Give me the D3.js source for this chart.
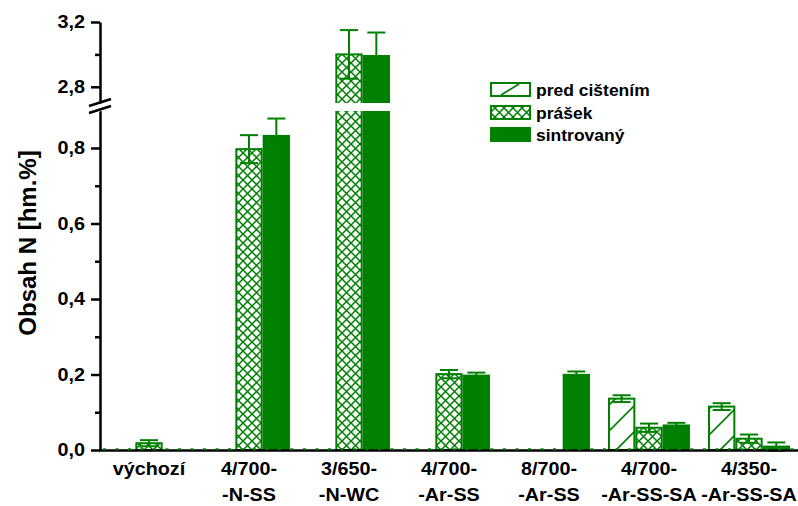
<!DOCTYPE html>
<html>
<head>
<meta charset="utf-8">
<script src="https://cdn.jsdelivr.net/npm/d3@7/dist/d3.min.js"></script>
<style>
  html, body { margin: 0; padding: 0; background: #fff; }
  svg { display: block; font-family: Arial, "Liberation Sans", sans-serif; font-weight: bold; }
</style>
</head>
<body>
<svg id="chart" width="798" height="506"></svg>
<script>
// Nitrogen content per sample, three series; null = not measured
const categories = [["výchozí"], ["4/700-", "-N-SS"], ["3/650-", "-N-WC"], ["4/700-", "-Ar-SS"],
                    ["8/700-", "-Ar-SS"], ["4/700-", "-Ar-SS-SA"], ["4/350-", "-Ar-SS-SA"]];
const seriesNames = ["pred cištením", "prášek", "sintrovaný"];
const predValues   = [null, null, null, null, null, 0.136, 0.115];
const predErrors   = [null, null, null, null, null, 0.009, 0.009];
const prasekValues = [0.018, 0.797, 3.00, 0.201, null, 0.059, 0.030];
const prasekErrors = [0.008, 0.037, 0.15, 0.011, null, 0.011, 0.011];
const sintrValues  = [null, 0.832, 2.99, 0.197, 0.199, 0.065, 0.009];
const sintrErrors  = [null, 0.046, 0.145, 0.008, 0.009, 0.007, 0.011];
const lowTicks = [0, 0.2, 0.4, 0.6, 0.8];
const lowMinor = [0.1, 0.3, 0.5, 0.7];
const highTicks = [2.8, 3.2];
const highMinor = [3.0];

const green = "#008000";
const svg = d3.select("#chart");
const wide = 1.13; // horizontal stretch of the label lettering

const x = d3.scaleBand().domain(d3.range(categories.length)).range([99, 799]).paddingInner(0).paddingOuter(0);
const groupPad = 0.09;
const xs = d3.scaleBand().domain([0, 1, 2])
  .range([x.bandwidth() * groupPad, x.bandwidth() * (1 - groupPad)]);

// broken value axis: lower segment 0–0.9, upper segment 2.7–3.2
const yLow = d3.scaleLinear().domain([0, 0.9]).range([450, 110.25]);
const yHigh = d3.scaleLinear().domain([2.7, 3.2]).range([103, 22]);
const y = v => v <= 0.9 ? yLow(v) : yHigh(v);

// fill patterns
const defs = svg.append("defs");
const hatch = defs.append("pattern").attr("id", "hatch").attr("patternUnits", "userSpaceOnUse")
  .attr("width", 26).attr("height", 26);
hatch.append("path").attr("d", "M0,26 L26,0 M-3,3 L3,-3 M23,29 L29,23")
  .attr("stroke", green).attr("stroke-width", 1.6);
const cross = defs.append("pattern").attr("id", "cross").attr("patternUnits", "userSpaceOnUse")
  .attr("width", 9).attr("height", 9);
cross.append("path").attr("d", "M0,0 L9,9 M9,0 L0,9")
  .attr("stroke", green).attr("stroke-width", 1.5);

const fills = ["url(#hatch)", "url(#cross)", green];
const series = [
  { values: predValues, errors: predErrors },
  { values: prasekValues, errors: prasekErrors },
  { values: sintrValues, errors: sintrErrors }
];

const plot = svg.append("g");
series.forEach((s, si) => {
  const items = s.values.map((v, i) => ({ i, v, e: s.errors[i] })).filter(d => d.v != null);
  const g = plot.append("g");
  // error bars (symmetric)
  const eb = g.selectAll("g.eb").data(items).join("g").attr("class", "eb");
  const cx = d => x(d.i) + xs(si) + xs.bandwidth() / 2;
  eb.append("line").attr("x1", cx).attr("x2", cx)
    .attr("y1", d => y(d.v - d.e)).attr("y2", d => y(d.v + d.e))
    .attr("stroke", green).attr("stroke-width", 2);
  eb.append("line").attr("x1", d => cx(d) - 9).attr("x2", d => cx(d) + 9)
    .attr("y1", d => y(d.v + d.e)).attr("y2", d => y(d.v + d.e))
    .attr("stroke", green).attr("stroke-width", 2);
  eb.append("line").attr("x1", d => cx(d) - 9).attr("x2", d => cx(d) + 9)
    .attr("y1", d => y(d.v - d.e)).attr("y2", d => y(d.v - d.e))
    .attr("stroke", green).attr("stroke-width", 2);
  // bars
  g.selectAll("rect").data(items).join("rect")
    .attr("x", d => x(d.i) + xs(si) + 1)
    .attr("width", xs.bandwidth() - 2)
    .attr("y", d => y(d.v))
    .attr("height", d => y(0) - y(d.v))
    .attr("fill", fills[si])
    .attr("stroke", green).attr("stroke-width", 2);
});

// gap in the bars at the axis break
svg.append("rect").attr("x", 102).attr("width", 696).attr("y", 103).attr("height", 8).attr("fill", "#fff");

// axes
const tickFmt = d => d3.format(".1f")(d).replace(".", ",");
svg.append("g").attr("transform", "translate(100,0)")
  .call(d3.axisLeft(yLow).tickValues(lowTicks).tickFormat(tickFmt).tickSize(9).tickSizeOuter(0).tickPadding(5));
svg.append("g").attr("transform", "translate(100,0)")
  .call(d3.axisLeft(yLow).tickValues(lowMinor).tickFormat("").tickSize(5).tickSizeOuter(0))
  .select(".domain").remove();
svg.append("g").attr("transform", "translate(100,0)")
  .call(d3.axisLeft(yHigh).tickValues(highTicks).tickFormat(tickFmt).tickSize(9).tickSizeOuter(0).tickPadding(5));
svg.append("g").attr("transform", "translate(100,0)")
  .call(d3.axisLeft(yHigh).tickValues(highMinor).tickFormat("").tickSize(5).tickSizeOuter(0))
  .select(".domain").remove();
svg.selectAll(".tick line").attr("stroke", "#000").attr("stroke-width", 2.5);
svg.selectAll(".domain").attr("stroke", "#000").attr("stroke-width", 2.5);
svg.selectAll(".tick text").each(function () {
  const t = d3.select(this);
  const tx = +t.attr("x");
  t.attr("x", null)
    .attr("transform", `translate(${tx - 1},0) scale(1.1,1)`)
    .attr("font-size", 18).attr("font-weight", "bold")
    .attr("font-family", "Arial, 'Liberation Sans', sans-serif").attr("fill", "#000");
});

// break marks on the value axis
svg.append("polygon").attr("points", "96,108 106,104 106,109 96,113").attr("fill", "#fff");
svg.append("line").attr("x1", 89).attr("y1", 106).attr("x2", 111).attr("y2", 99)
  .attr("stroke", "#000").attr("stroke-width", 2.5);
svg.append("line").attr("x1", 89).attr("y1", 113).attr("x2", 111).attr("y2", 106)
  .attr("stroke", "#000").attr("stroke-width", 2.5);

// category axis
svg.append("line").attr("x1", 99).attr("x2", 798).attr("y1", 450.5).attr("y2", 450.5)
  .attr("stroke", "#000").attr("stroke-width", 2.5);
// dotted baseline at zero
svg.append("line").attr("x1", 103).attr("x2", 798).attr("y1", 449.3).attr("y2", 449.3)
  .attr("stroke", green).attr("stroke-width", 2).attr("stroke-dasharray", "3,9.5");

const xl = svg.append("g");
categories.forEach((lines, i) => {
  lines.forEach((t, k) => {
    xl.append("text")
      .attr("transform", `translate(${x(i) + x.bandwidth() / 2},${475 + k * 26}) scale(${wide},1)`)
      .attr("text-anchor", "middle").attr("font-size", 17.5).text(t);
  });
});

// axis title
svg.append("text").attr("transform", "translate(36,243) rotate(-90)")
  .attr("text-anchor", "middle").attr("font-size", 24).text("Obsah N [hm.%]");

// legend
const legend = svg.append("g");
seriesNames.forEach((name, i) => {
  const ly = [83, 106, 128][i];
  legend.append("rect").attr("x", 491).attr("y", ly).attr("width", 39).attr("height", 13)
    .attr("fill", i === 0 ? "#fff" : fills[i]).attr("stroke", green).attr("stroke-width", 2);
  if (i === 0) {
    legend.append("line").attr("x1", 501).attr("y1", 95).attr("x2", 519).attr("y2", 84)
      .attr("stroke", green).attr("stroke-width", 1.6);
  }
  legend.append("text").attr("transform", `translate(536,${ly + 12.5}) scale(1.06,1)`)
    .attr("font-size", 16.5).text(name);
});
</script>
</body>
</html>
